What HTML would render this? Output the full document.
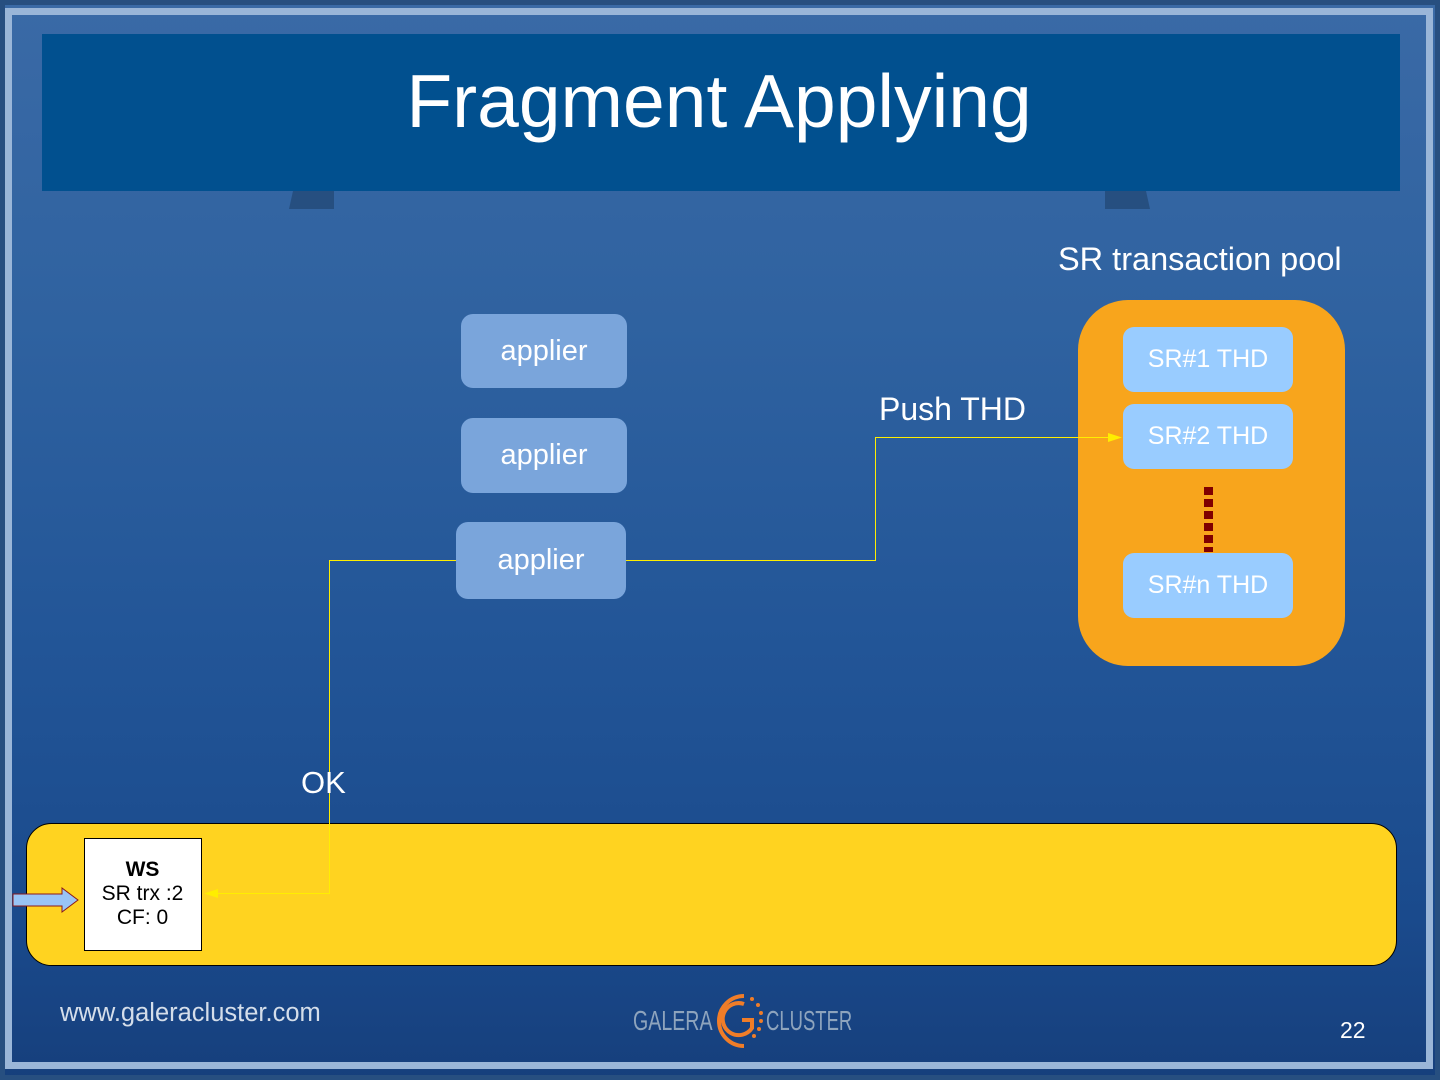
<!DOCTYPE html>
<html><head><meta charset="utf-8"><style>
html,body{margin:0;padding:0}
body{width:1440px;height:1080px;position:relative;overflow:hidden;font-family:"Liberation Sans",sans-serif;
background:linear-gradient(180deg,#3a6aa6 0%,#2f62a0 30%,#225597 60%,#1a4a8c 85%,#163f7c 100%);}
.abs{position:absolute}
.t{color:#fff;position:absolute;white-space:nowrap}
.app{position:absolute;background:#7aa5db;border-radius:12px;color:#fff;font-size:29px;text-align:center}
.sr{position:absolute;left:1123px;width:170px;height:65px;background:#99ccff;border-radius:11px;color:#fff;font-size:25px;text-align:center;line-height:65px}
</style></head><body>
<div class="abs" style="left:0;top:0;width:1440px;height:1080px;box-sizing:border-box;border:5px solid #274f80"></div>
<div class="abs" style="left:5px;top:8px;width:1428px;height:1061px;box-sizing:border-box;border:7px solid #9ab6d8"></div>
<div class="abs" style="left:42px;top:34px;width:1358px;height:157px;background:#01508f"></div>
<div class="t" style="left:0;width:1438px;text-align:center;top:58px;font-size:75px">Fragment Applying</div>
<svg class="abs" style="left:0;top:0" width="1440" height="1080">
<polygon points="293,191 334,191 334,209 289,209" fill="#264f80"/>
<polygon points="1105,191 1146,191 1150,209 1105,209" fill="#264f80"/>
<rect x="1078" y="300" width="267" height="366" rx="50" fill="#f8a51c"/>
<line x1="1208.5" y1="487" x2="1208.5" y2="552" stroke="#800000" stroke-width="9" stroke-dasharray="8,4"/>
<rect x="26.5" y="823.5" width="1370" height="142" rx="25" fill="#ffd320" stroke="#000" stroke-width="1"/>
<rect x="84.5" y="838.5" width="117" height="112" fill="#fff" stroke="#000" stroke-width="1"/>
<polygon points="13,894 62,894 62,888 78,900 62,912 62,906 13,906" fill="#99c4f5" stroke="#8b1a1a" stroke-width="1"/>
<polyline points="626,560.5 875.5,560.5 875.5,437.5 1110,437.5" fill="none" stroke="#ffee00" stroke-width="1"/>
<polygon points="1122,437.5 1108,433 1108,442" fill="#ffee00"/>
<polyline points="456,560.5 329.5,560.5 329.5,893.5 216,893.5" fill="none" stroke="#ffee00" stroke-width="1"/>
<polygon points="204,893.5 218,889 218,898" fill="#ffee00"/>
<g transform="translate(6,0)">
<path d="M738,996 A24,24 0 1 0 738,1046" fill="none" stroke="#f07d28" stroke-width="4"/>
<path d="M738,1004 A16,16 0 1 0 746,1028 L746,1020 L736,1020" fill="none" stroke="#f07d28" stroke-width="4"/>
<g fill="#f07d28"><circle cx="746" cy="999" r="2"/><circle cx="752" cy="1005" r="2"/><circle cx="755" cy="1013" r="2"/><circle cx="755" cy="1021" r="2"/><circle cx="753" cy="1029" r="2"/><circle cx="748" cy="1036" r="2"/></g>
</g>
</svg>
<div class="app" style="left:461px;top:314px;width:166px;height:74px;line-height:74px">applier</div>
<div class="app" style="left:461px;top:418px;width:166px;height:75px;line-height:75px">applier</div>
<div class="app" style="left:456px;top:522px;width:170px;height:77px;line-height:77px">applier</div>
<div class="sr" style="top:327px">SR#1 THD</div>
<div class="sr" style="top:404px">SR#2 THD</div>
<div class="sr" style="top:553px">SR#n THD</div>
<div class="t" style="left:1058px;top:241px;font-size:32.5px">SR transaction pool</div>
<div class="t" style="left:879px;top:391px;font-size:32px">Push THD</div>
<div class="t" style="left:301px;top:765px;font-size:31px">OK</div>
<div class="abs" style="left:84px;top:858px;width:117px;text-align:center;font-size:21px;line-height:24px;color:#000"><b>WS</b><br>SR trx :2<br>CF: 0</div>
<div class="t" style="left:60px;top:999px;font-size:25.5px;color:#d5deea">www.galeracluster.com</div>
<div class="t" style="left:1340px;top:1017px;font-size:23px">22</div>
<div class="t" style="left:633px;top:1005px;font-size:28px;color:#8ea4bd;transform:scaleX(0.7);transform-origin:left">GALERA</div>
<div class="t" style="left:766px;top:1005px;font-size:28px;color:#8ea4bd;transform:scaleX(0.66);transform-origin:left">CLUSTER</div>
</body></html>
